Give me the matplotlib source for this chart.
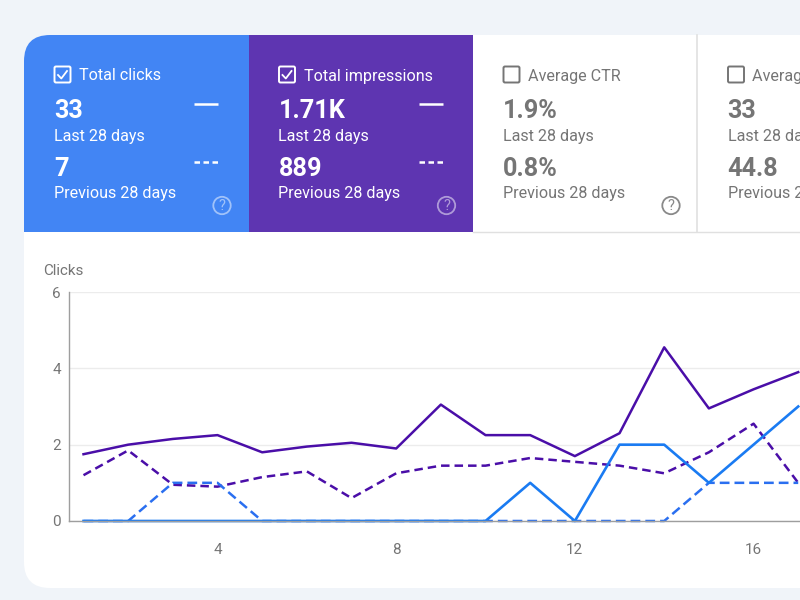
import matplotlib
matplotlib.use("Agg")
import matplotlib.pyplot as plt
from matplotlib.patches import FancyBboxPatch, Rectangle, Circle

plt.rcParams["font.family"] = ["Roboto", "DejaVu Sans"]

days = list(range(1, 18))
impressions = [1.75, 2.0, 2.15, 2.25, 1.8, 1.95, 2.05, 1.9, 3.05, 2.25, 2.25, 1.7, 2.3, 4.55, 2.95, 3.45, 3.9]
impressions_prev = [1.2, 1.85, 0.95, 0.9, 1.15, 1.3, 0.6, 1.25, 1.45, 1.45, 1.65, 1.55, 1.45, 1.25, 1.8, 2.55, 1.0]
clicks = [0, 0, 0, 0, 0, 0, 0, 0, 0, 0, 1, 0, 2, 2, 1, 2, 3]
clicks_prev = [0, 0, 1, 1, 0, 0, 0, 0, 0, 0, 0, 0, 0, 0, 1, 1, 1]

titles = ["Total clicks", "Total impressions", "Average CTR", "Average position"]
last_vals = ["33", "1.71K", "1.9%", "33"]
prev_vals = ["7", "889", "0.8%", "44.8"]

PAGE = "#f0f4f9"
BLUE = "#4285f4"
PURPLE = "#5e35b1"
GREY = "#757575"

fig = plt.figure(figsize=(8, 6), dpi=100, facecolor=PAGE)

# pixel space overlay for the cards
bg = fig.add_axes([0, 0, 1, 1])
bg.set_xlim(0, 800)
bg.set_ylim(600, 0)
bg.axis("off")

card = FancyBboxPatch((24, 35), 900, 553, boxstyle="round,pad=0,rounding_size=26",
                      fc="white", ec="none")
bg.add_patch(card)

lefts = [24, 248.5, 473, 697.5]
fills = [BLUE, PURPLE, "white", "white"]
for i in range(4):
    r = Rectangle((lefts[i], 35), 224.5, 197, fc=fills[i], ec="none")
    bg.add_patch(r)
    r.set_clip_path(card)

    selected = i < 2
    fg = "white" if selected else GREY
    x = lefts[i] + 30

    # checkbox
    box = FancyBboxPatch((x + 0.5, 66.5), 16, 16, boxstyle="round,pad=0,rounding_size=1.5",
                         fc=fills[i] if selected else "none", ec=fg, lw=1.4)
    bg.add_patch(box)
    if selected:
        bg.plot([x + 4, x + 7.3, x + 13], [75, 78.5, 71], color=fg, lw=1.3)

    bg.text(x + 25, 76, titles[i], color=fg, fontsize=11.6, va="center", ha="left")
    bg.text(x, 110.5, last_vals[i], color=fg, fontsize=18.2, fontweight="bold", va="center", ha="left")
    bg.text(x, 136, "Last 28 days", color=fg, fontsize=11.6, va="center", ha="left")
    bg.text(x, 168.5, prev_vals[i], color=fg, fontsize=18.2, fontweight="bold", va="center", ha="left")
    bg.text(x, 193.5, "Previous 28 days", color=fg, fontsize=11.6, va="center", ha="left")

    if selected:
        bg.plot([x + 140, x + 164], [104, 104], color="white", lw=1.8, solid_capstyle="butt")
        bg.plot([x + 140, x + 164], [161.5, 161.5], color="white", lw=1.8,
                linestyle=(0, (2.2, 1.4)), dash_capstyle="butt")

    # help icon, not on the cut off last card
    if i < 3:
        col = "white" if selected else GREY
        alpha = 0.5 if selected else 0.85
        bg.add_patch(Circle((x + 168, 205.5), 8.7, fc="none", ec=col, lw=1.3, alpha=alpha))
        bg.text(x + 168, 206, "?", color=col, alpha=alpha, fontsize=10.5, ha="center", va="center")

bg.plot([473, 800], [232, 232], color="#e0e0e0", lw=1)
bg.plot([697, 697], [35, 232], color="#e0e0e0", lw=1.2)
bg.text(43.5, 271, "Clicks", color=GREY, fontsize=10.9, va="center", ha="left")

# chart
ax = fig.add_axes([68.5 / 800, 79 / 600, 731.5 / 800, 229 / 600])
ax.patch.set_alpha(0)
ax.set_xlim(0.664, 17.04)
ax.set_ylim(0, 6)
ax.set_xticks([4, 8, 12, 16])
ax.set_yticks([0, 2, 4, 6])
ax.tick_params(length=0, labelsize=11, labelcolor=GREY)
ax.tick_params(axis="x", pad=15.5)
ax.tick_params(axis="y", pad=5.5)
ax.grid(axis="y", color="#ececec", lw=1)
ax.set_axisbelow(True)
for side in ["top", "right"]:
    ax.spines[side].set_visible(False)
for side in ["left", "bottom"]:
    ax.spines[side].set_color("#9e9e9e")
    ax.spines[side].set_linewidth(1)

ax.plot(days, impressions, color="#4a0ea8", lw=1.8, clip_on=False)
ax.plot(days, impressions_prev, color="#4a0ea8", lw=1.8, linestyle=(0, (3.4, 2)), clip_on=False)
ax.plot(days, clicks_prev, color="#2a6ff0", lw=1.8, linestyle=(0, (3.9, 2)), clip_on=False)
ax.plot(days, clicks, color="#1a7bf2", lw=1.9, clip_on=False)

fig.savefig("out.png", dpi=100, facecolor=PAGE)
